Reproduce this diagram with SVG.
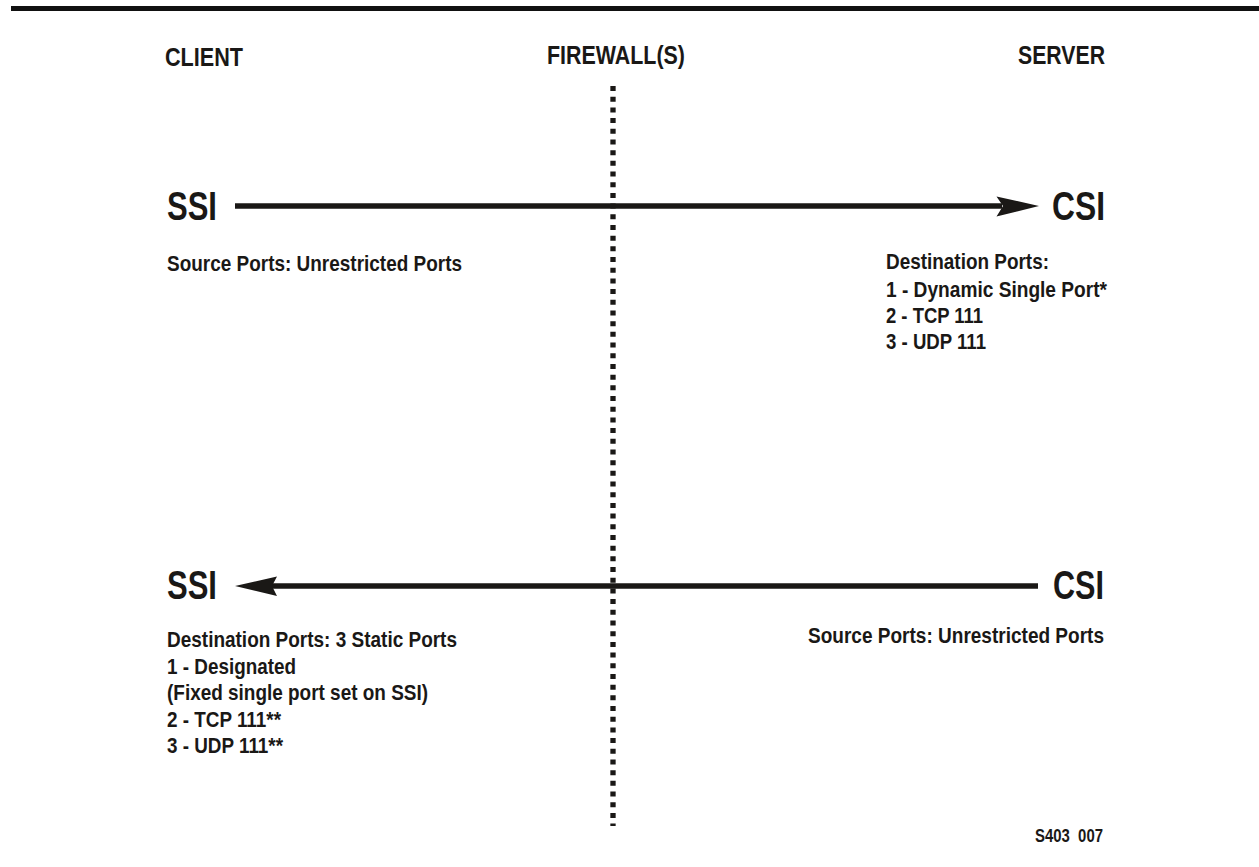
<svg xmlns="http://www.w3.org/2000/svg" width="1259" height="867" viewBox="0 0 1259 867">
<style>
text{font-family:"Liberation Sans",Arial,Helvetica,sans-serif;font-weight:bold;fill:#1a1816}
.h{font-size:25px}
.big{font-size:40px}
.b{font-size:22px}
.s{font-size:18px}
.ln{stroke:#1a1816;stroke-width:5.5;fill:none}
.ah{fill:#1a1816}
</style>
<rect x="11" y="6" width="1248" height="5" fill="#111"/>
<g id="firewall-line">
<line x1="613" y1="86" x2="613" y2="826" stroke="#1a1816" stroke-width="5.3" stroke-dasharray="5 5.69"/>
</g>
<g id="client-header"><text class="h" x="165" y="66" textLength="78" lengthAdjust="spacingAndGlyphs">CLIENT</text></g>
<g id="firewall-header"><text class="h" x="547" y="64" textLength="138" lengthAdjust="spacingAndGlyphs">FIREWALL(S)</text></g>
<g id="server-header"><text class="h" x="1018" y="64" textLength="87" lengthAdjust="spacingAndGlyphs">SERVER</text></g>
<g id="connectors">
<line class="ln" x1="235" y1="206" x2="1002" y2="206"/>
<path class="ah" d="M1039,206 L996.5,196.5 L1003,206 L996.5,216.5 Z"/>
<line class="ln" x1="1038" y1="586" x2="272" y2="586"/>
<path class="ah" d="M235,586 L277,576.5 L272,586 L277,596 Z"/>
</g>
<g id="ssi-top">
<text class="big" x="167" y="220" textLength="50" lengthAdjust="spacingAndGlyphs">SSI</text>
<text class="b" x="167" y="271" textLength="295" lengthAdjust="spacingAndGlyphs">Source Ports: Unrestricted Ports</text>
</g>
<g id="csi-top">
<text class="big" x="1052" y="220" textLength="53" lengthAdjust="spacingAndGlyphs">CSI</text>
<text class="b" x="886" y="269" textLength="163" lengthAdjust="spacingAndGlyphs">Destination Ports:</text>
<text class="b" x="886" y="297" textLength="221" lengthAdjust="spacingAndGlyphs">1 - Dynamic Single Port*</text>
<text class="b" x="886" y="323" textLength="97" lengthAdjust="spacingAndGlyphs">2 - TCP 111</text>
<text class="b" x="886" y="349" textLength="100" lengthAdjust="spacingAndGlyphs">3 - UDP 111</text>
</g>
<g id="ssi-bottom">
<text class="big" x="167" y="599" textLength="50" lengthAdjust="spacingAndGlyphs">SSI</text>
<text class="b" x="167" y="647" textLength="290" lengthAdjust="spacingAndGlyphs">Destination Ports: 3 Static Ports</text>
<text class="b" x="167" y="674" textLength="129" lengthAdjust="spacingAndGlyphs">1 - Designated</text>
<text class="b" x="167" y="700" textLength="261" lengthAdjust="spacingAndGlyphs">(Fixed single port set on SSI)</text>
<text class="b" x="167" y="727" textLength="114" lengthAdjust="spacingAndGlyphs">2 - TCP 111**</text>
<text class="b" x="167" y="753" textLength="116" lengthAdjust="spacingAndGlyphs">3 - UDP 111**</text>
</g>
<g id="csi-bottom">
<text class="big" x="1053" y="599" textLength="51" lengthAdjust="spacingAndGlyphs">CSI</text>
<text class="b" x="808" y="643" textLength="296" lengthAdjust="spacingAndGlyphs">Source Ports: Unrestricted Ports</text>
</g>
<g id="figure-id"><text class="s" x="1035" y="842" textLength="68" lengthAdjust="spacingAndGlyphs" xml:space="preserve">S403  007</text></g>
</svg>
